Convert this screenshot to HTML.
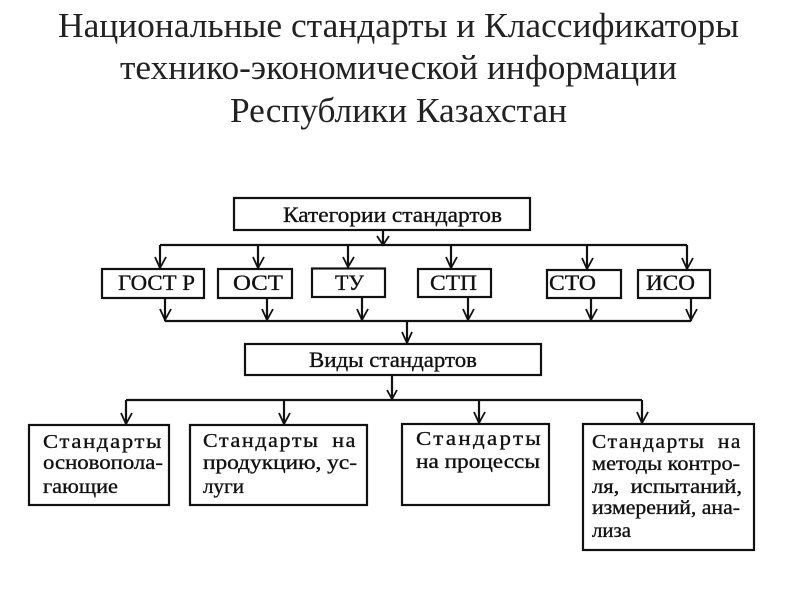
<!DOCTYPE html>
<html><head><meta charset="utf-8"><style>html,body{margin:0;padding:0;background:#fff}svg{display:block}</style></head>
<body>
<svg width="800" height="600" viewBox="0 0 800 600" xmlns="http://www.w3.org/2000/svg">
<rect width="800" height="600" fill="#fff"/>
<g font-family="'Liberation Serif',serif" font-size="35" fill="#222">
<text x="58" y="37" textLength="681" lengthAdjust="spacingAndGlyphs">Национальные стандарты и Классификаторы</text>
<text x="120" y="79" textLength="557" lengthAdjust="spacingAndGlyphs">технико-экономической информации</text>
<text x="230" y="122" textLength="337" lengthAdjust="spacingAndGlyphs">Республики Казахстан</text>
</g>
<g fill="none" stroke="#111" stroke-width="2.200">
<rect x="234" y="198" width="296" height="32"/>
<rect x="102" y="269" width="102" height="29"/>
<rect x="218" y="269" width="74" height="29"/>
<rect x="312" y="268.500" width="73" height="28.500"/>
<rect x="418" y="269" width="73" height="28"/>
<rect x="547" y="270" width="74" height="28"/>
<rect x="638" y="270" width="72" height="28"/>
<rect x="245" y="344" width="296" height="31"/>
<rect x="29" y="425" width="140" height="80"/>
<rect x="190" y="425" width="177" height="80"/>
<rect x="402" y="424" width="147" height="81"/>
<rect x="583" y="424" width="171" height="126"/>
<path d="M383 230V245M160 245H687M160 245V269M258 245V269M348 245V268M451 245V269M587 245V270M687 245V270"/>
<path d="M165 298V321M267 298V321M362 297V321M468 297V321M591 298V321M691 298V321M165 321H691M407 321V344"/>
<path d="M392 375V400M126 400H642M126 400V425M284 400V425M479 400V424M642 400V424"/>
<path stroke-width="1.800" d="M377 236L383 245L389 236M155 257L160 268L166 257M253 257L258 268L264 257M343 257L348 267L354 257M446 257L451 268L457 257M582 258L587 269L593 258M682 258L687 269L693 258"/>
<path stroke-width="1.800" d="M160 309L165 320L171 309M262 309L267 320L273 309M357 309L362 320L368 309M463 309L468 320L474 309M586 309L591 320L597 309M686 309L691 320L697 309M402 332L407 343L412 332"/>
<path stroke-width="1.800" d="M387 390L392 399L397 390M121 413L126 424L132 413M279 413L284 424L290 413M474 412L479 423L485 412M637 412L642 423L648 412"/>
</g>
<g font-family="'Liberation Serif',serif" fill="#111" stroke="#111" stroke-width="0.350" font-size="22">
<text x="283" y="222" textLength="219" lengthAdjust="spacingAndGlyphs">Категории стандартов</text>
<text x="118" y="290" textLength="77" lengthAdjust="spacingAndGlyphs">ГОСТ Р</text>
<text x="233" y="290" textLength="50" lengthAdjust="spacingAndGlyphs">ОСТ</text>
<text x="335" y="290" textLength="29" lengthAdjust="spacingAndGlyphs">ТУ</text>
<text x="430" y="290" textLength="47" lengthAdjust="spacingAndGlyphs">СТП</text>
<text x="549" y="290" textLength="47" lengthAdjust="spacingAndGlyphs">СТО</text>
<text x="646" y="290" textLength="49" lengthAdjust="spacingAndGlyphs">ИСО</text>
<text x="309" y="367" textLength="168" lengthAdjust="spacingAndGlyphs">Виды стандартов</text>
<g font-size="20">
<text x="43" y="448" textLength="120" lengthAdjust="spacingAndGlyphs" letter-spacing="1.5">Стандарты</text>
<text x="43" y="469" textLength="120" lengthAdjust="spacingAndGlyphs">основопола-</text>
<text x="43" y="493" textLength="75" lengthAdjust="spacingAndGlyphs">гающие</text>
<text x="203" y="447" textLength="154" lengthAdjust="spacingAndGlyphs" letter-spacing="1.5" word-spacing="5">Стандарты на</text>
<text x="203" y="469" textLength="154" lengthAdjust="spacingAndGlyphs">продукцию, ус-</text>
<text x="203" y="493" textLength="41" lengthAdjust="spacingAndGlyphs">луги</text>
<text x="416" y="445" textLength="127" lengthAdjust="spacingAndGlyphs" letter-spacing="2">Стандарты</text>
<text x="416" y="468" textLength="124" lengthAdjust="spacingAndGlyphs">на процессы</text>
<text x="592" y="448" textLength="150" lengthAdjust="spacingAndGlyphs" letter-spacing="1.5" word-spacing="5">Стандарты на</text>
<text x="592" y="470" textLength="148" lengthAdjust="spacingAndGlyphs">методы контро-</text>
<text x="592" y="493" textLength="150" lengthAdjust="spacingAndGlyphs" word-spacing="5">ля, испытаний,</text>
<text x="592" y="514" textLength="148" lengthAdjust="spacingAndGlyphs">измерений, ана-</text>
<text x="592" y="537" textLength="39" lengthAdjust="spacingAndGlyphs">лиза</text>
</g>
</g>
</svg>
</body></html>
